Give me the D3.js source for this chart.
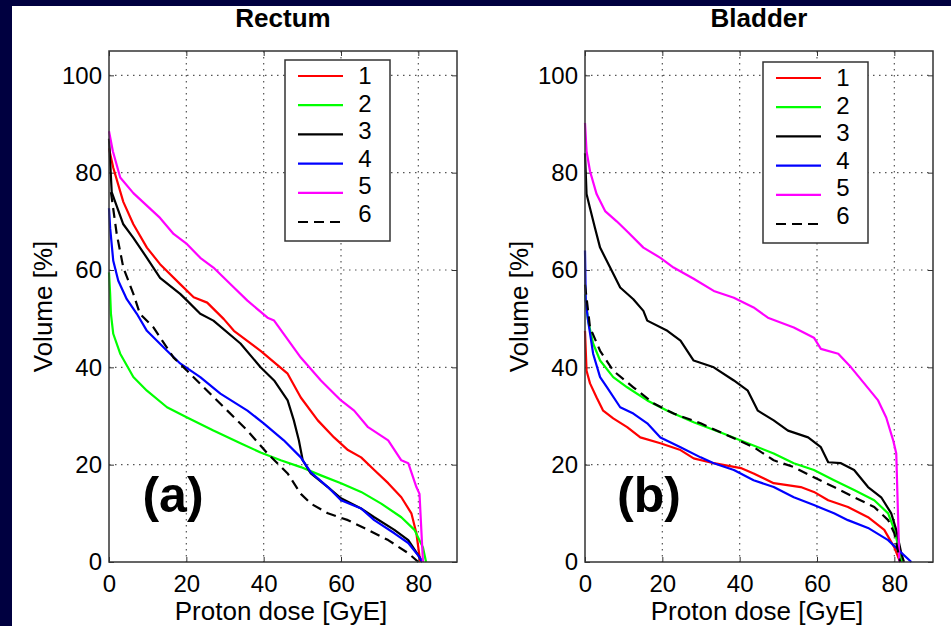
<!DOCTYPE html>
<html>
<head>
<meta charset="utf-8">
<script src="https://cdn.jsdelivr.net/npm/d3@7"></script>
<style>
    html, body { margin: 0; padding: 0; background: #000040; }
    svg { display: block; }
    text { font-family: "Liberation Sans", Arial, Helvetica, sans-serif; fill: #000; }
</style>
</head>
<body>
<div id="chart"></div>
<script>
// Dose-volume histograms, rectum (a) and bladder (b)

const seriesNames = ["1", "2", "3", "4", "5", "6"];
const seriesColors = ["#ff0000", "#00ff00", "#000000", "#0000ff", "#ff00ff", "#000000"];
const seriesDash = [null, null, null, null, null, "10,6"];

const xTicks = [0, 20, 40, 60, 80];
const yTicks = [0, 20, 40, 60, 80, 100];

// [dose GyE, volume %]
const rectum1 = [[0,85],[1.1,81],[3.7,74],[6.3,69.4],[9.8,64.6],[13.2,61.2],[18.4,57.1],[21.9,54.4],[25.4,53.3],[29.7,49.9],[32.3,47.5],[39.2,43.4],[46.2,38.7],[49.6,33.8],[54,29.1],[58.2,25.6],[61.8,23],[65.2,21.5],[68.6,18.9],[72.2,16.2],[75.6,13.3],[78.2,10],[79.5,5.9],[80.5,0]];
const rectum2 = [[0,59.5],[0.3,55],[0.5,51],[1.1,46.9],[2.9,42.8],[6.3,38],[9.8,35.2],[15,31.8],[20.2,29.7],[27,27],[34,24.4],[39.2,22.5],[44.4,20.9],[49.6,19.5],[54.8,17.8],[60,16.2],[65.2,14.4],[70.4,12],[75.6,9.2],[79,6.6],[81.2,3],[82,0]];
const rectum3 = [[0,87],[0.7,76],[1.6,74],[3.7,69.4],[6.3,66.6],[9.8,62.5],[13.2,58.4],[18.4,55.1],[20.2,53.7],[23.6,51],[27,49.6],[34,44.9],[39.2,40],[42.7,37.3],[46.2,33.2],[47.8,29.1],[49.1,25],[50.1,20.9],[52.2,18.2],[56.6,15.4],[60,13.1],[65.2,11],[68.6,9.2],[73.8,6.6],[77.4,4.5],[80.3,1],[81,0]];
const rectum4 = [[0,72.7],[0.3,68.6],[1.1,61.9],[2.4,57.8],[4.6,54],[7.2,51],[9.8,47.5],[15,43.4],[18.4,40.8],[23.6,38],[28.8,34.6],[35.8,31.1],[40,28.5],[45.2,25],[49.6,21.5],[52.2,18.4],[56.6,15.4],[60,12.7],[65.2,11],[68.6,8.6],[73.8,5.9],[77.4,3.9],[80.3,1],[81,0]];
const rectum5 = [[0,88.5],[1,84.4],[2.9,79],[6.3,75.8],[13.2,70.7],[16.7,67.4],[20.2,65.3],[23.6,62.5],[27,60.5],[32.3,56.4],[35.8,53.7],[41,50.2],[42.7,49.6],[49.6,42],[54.8,37.3],[60,33.2],[63.4,31.1],[67,27.7],[72.2,25],[75.6,20.9],[77.4,20.3],[79.5,15.4],[80.3,14],[81.2,0]];
const rectum6 = [[0.5,76],[2,67.4],[3.7,60.5],[6.3,55.1],[8,51],[11.5,48.2],[16.7,42],[20.2,39.3],[25.4,35.2],[30.6,31.1],[35.8,27],[41,22.3],[46.2,18.2],[49.6,14],[52.2,12],[56.6,10],[61.8,8.6],[67,6.6],[72.2,4.5],[77.4,1.8],[80,0]];

const bladder1 = [[0,47.5],[0.4,39.3],[1.3,36.7],[3,33.8],[4.7,31.1],[7.3,29.5],[10.9,27.7],[14.3,25.6],[19.5,24.4],[24.7,23],[28.1,21.3],[33.3,20.3],[40.3,19.3],[43.6,18.2],[48.8,16.2],[55.8,15.4],[59.2,14.4],[62.9,12.7],[68,11.3],[73.2,9.2],[77.4,6.6],[80,3],[81.5,0]];
const bladder2 = [[0,55],[0.8,49.6],[2.1,44.9],[3.9,41.4],[7.3,38],[10.9,35.9],[16.1,33.2],[21.3,31.1],[28.1,28.7],[35.1,26.6],[42.1,24.4],[48.8,22.3],[54,20.3],[59.2,18.9],[64.4,16.8],[69.6,14.8],[74.8,12.7],[78.4,10],[80,6.6],[82,0]];
const bladder3 = [[0,84],[0.4,75.6],[1.3,72.7],[2.6,68.6],[3.9,64.6],[6.5,60.5],[9.1,56.4],[12.5,54],[15.1,51.6],[16.1,49.6],[21.3,47.5],[24.7,45.5],[28.1,41.4],[33.3,40],[38.5,37.3],[42.1,35.2],[44.7,31.1],[48.8,29.1],[52.5,27],[57.7,25.6],[61,23.6],[62.9,20.5],[66.2,20.3],[69.6,18.9],[73.2,15.4],[76.6,13.3],[79.2,10],[80.5,6.6],[81.8,1.8],[82.5,0]];
const bladder4 = [[0,64],[0.2,53.7],[0.8,49.6],[2.1,42.8],[3.9,38],[5.7,35.9],[9.1,31.8],[12.5,30.5],[16.1,28.5],[19.5,25.6],[24.7,23.6],[29.9,21.5],[33.3,20.3],[38.5,18.9],[43.6,16.8],[48.8,15.4],[54,13.3],[59.2,11.7],[64.4,10],[68,8.6],[73.2,7],[78.4,4.5],[81,2.5],[84.4,0]];
const bladder5 = [[0,90.2],[0.4,84.4],[1.3,80.3],[3,75.6],[5.2,72.1],[8.2,70],[10.8,68],[15.1,64.6],[19.5,62.5],[22.9,60.5],[28.1,58.2],[33.3,55.7],[38.5,54.3],[43.6,52.3],[47.3,50.2],[54,48.2],[59.2,46.1],[61,43.8],[65.5,42.8],[68.8,40],[72.2,36.7],[75.8,33.2],[77.9,29.7],[79.7,25],[80.5,22.3],[81.3,0]];
const bladder6 = [[0,57],[1.3,48.2],[3.9,43.4],[7.3,39.3],[12.5,35.9],[17.7,32.6],[22.9,30.5],[29.9,28.5],[36.9,26],[43.6,23.6],[48.8,20.9],[54,19.5],[59.2,17.4],[64.4,15.4],[69.6,13.3],[74.8,11.3],[78.4,8.6],[80,5.9],[81.5,0]];

const panels = [
    { title: "Rectum", tag: "(a)", left: 109, legendX: 285, legendY: 60, series: [rectum1, rectum2, rectum3, rectum4, rectum5, rectum6] },
    { title: "Bladder", tag: "(b)", left: 585, legendX: 763, legendY: 62, series: [bladder1, bladder2, bladder3, bladder4, bladder5, bladder6] }
];

const W = 951, H = 626;
const plotW = 348, plotTop = 51, plotH = 511;

const svg = d3.select("#chart").append("svg")
    .attr("width", W)
    .attr("height", H);

// white sheet
svg.append("rect")
    .attr("x", 12).attr("y", 6)
    .attr("width", W - 12).attr("height", H - 6)
    .attr("fill", "#fff");

panels.forEach(p => {
    const x = d3.scaleLinear().domain([0, 90]).range([0, plotW]);
    const y = d3.scaleLinear().domain([0, 105]).range([plotH, 0]);

    const g = svg.append("g").attr("transform", `translate(${p.left},${plotTop})`);

    // ─── grid ───
    g.append("g").selectAll("line")
        .data(xTicks.filter(d => d > 0))
        .join("line")
        .attr("x1", d => x(d)).attr("x2", d => x(d))
        .attr("y1", 0).attr("y2", plotH)
        .attr("stroke", "#555").attr("stroke-width", 1.2)
        .attr("stroke-dasharray", "1.5,4.5");

    g.append("g").selectAll("line")
        .data(yTicks.filter(d => d > 0))
        .join("line")
        .attr("x1", 0).attr("x2", plotW)
        .attr("y1", d => y(d)).attr("y2", d => y(d))
        .attr("stroke", "#555").attr("stroke-width", 1.2)
        .attr("stroke-dasharray", "1.5,4.5");

    // ─── axes (ticks inward) ───
    const ax = g.append("g")
        .attr("transform", `translate(0,${plotH})`)
        .call(d3.axisBottom(x).tickValues(xTicks).tickSizeInner(-5).tickSizeOuter(0).tickPadding(13));
    const ay = g.append("g")
        .call(d3.axisLeft(y).tickValues(yTicks).tickSizeInner(-5).tickSizeOuter(0).tickPadding(7));
    const axTop = g.append("g")
        .call(d3.axisTop(x).tickValues(xTicks).tickSizeInner(-5).tickSizeOuter(0).tickFormat(""));
    const ayRight = g.append("g")
        .attr("transform", `translate(${plotW},0)`)
        .call(d3.axisRight(y).tickValues(yTicks).tickSizeInner(-5).tickSizeOuter(0).tickFormat(""));

    [ax, ay, axTop, ayRight].forEach(a => {
        a.select(".domain").remove();
        a.selectAll("line").attr("stroke", "#333");
        a.selectAll("text")
            .style("font-size", "24px")
            .style("font-family", "'Liberation Sans', Arial, sans-serif")
            .attr("fill", "#000");
    });

    // ─── curves ───
    const line = d3.line()
        .x(d => x(d[0]))
        .y(d => y(d[1]));

    p.series.forEach((s, i) => {
        g.append("path")
            .datum(s)
            .attr("d", line)
            .attr("fill", "none")
            .attr("stroke", seriesColors[i])
            .attr("stroke-width", 2.2)
            .attr("stroke-linejoin", "round")
            .attr("stroke-dasharray", seriesDash[i]);
    });

    // frame
    g.append("rect")
        .attr("width", plotW).attr("height", plotH)
        .attr("fill", "none")
        .attr("stroke", "#333").attr("stroke-width", 1.5);

    // ─── texts ───
    g.append("text")
        .attr("x", plotW / 2).attr("y", 27 - plotTop)
        .attr("text-anchor", "middle")
        .style("font-size", "26px").style("font-weight", "bold")
        .text(p.title);

    g.append("text")
        .attr("x", plotW / 2 - 2).attr("y", 620 - plotTop)
        .attr("text-anchor", "middle")
        .style("font-size", "26px")
        .text("Proton dose [GyE]");

    g.append("text")
        .attr("transform", `translate(${52 - 109},${plotH / 2}) rotate(-90)`)
        .attr("text-anchor", "middle")
        .style("font-size", "26px")
        .text("Volume [%]");

    g.append("text")
        .attr("x", 64).attr("y", 512 - plotTop)
        .attr("text-anchor", "middle")
        .style("font-size", "50px").style("font-weight", "bold")
        .text(p.tag);

    // ─── legend ───
    const lg = svg.append("g").attr("transform", `translate(${p.legendX},${p.legendY})`);
    lg.append("rect")
        .attr("width", 105).attr("height", 181)
        .attr("fill", "#fff")
        .attr("stroke", "#333").attr("stroke-width", 1.5);

    const rowY = d3.scaleLinear().domain([0, 5]).range([16, 162]);
    seriesNames.forEach((name, i) => {
        lg.append("line")
            .attr("x1", 13).attr("x2", 58)
            .attr("y1", rowY(i)).attr("y2", rowY(i))
            .attr("stroke", seriesColors[i])
            .attr("stroke-width", 2.2)
            .attr("stroke-dasharray", seriesDash[i] ? "10,6" : null);
        lg.append("text")
            .attr("x", 80).attr("y", rowY(i) - i * 1.6 + 8)
            .attr("text-anchor", "middle")
            .style("font-size", "24px")
            .text(name);
    });
});
</script>
</body>
</html>
